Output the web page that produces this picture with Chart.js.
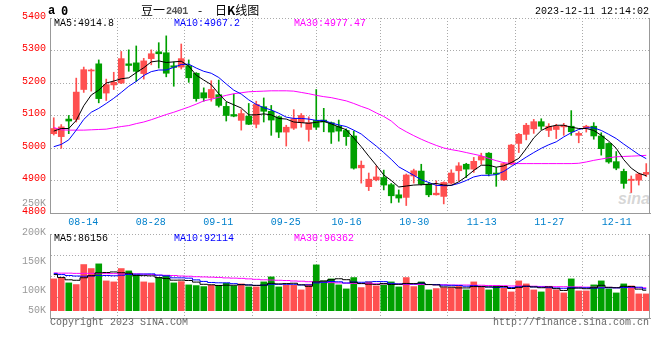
<!DOCTYPE html>
<html>
<head>
<meta charset="utf-8">
<script src="https://cdn.jsdelivr.net/npm/chart.js@4.4.1/dist/chart.umd.min.js"></script>
<style>
  body { margin: 0; background: #fff; }
  #wrap { position: relative; width: 660px; height: 360px; overflow: hidden; }
  #wrap canvas { position: absolute; left: 0; top: 0; }
  .t { position: absolute; white-space: pre; line-height: 12px; font: 10px "Liberation Mono", monospace; }
</style>
</head>
<body>
<div id="wrap">
  <span class="t" style="left:618px;top:190px;font:italic bold 16px 'Liberation Sans';color:rgba(150,150,150,.4)">sina</span>
  <canvas id="priceChart" width="660" height="360"></canvas>
  <canvas id="volChart" width="660" height="360"></canvas>
  <span class="t" style="left:48px;top:4px;font:bold 12px 'Liberation Mono'">a</span>
  <span class="t" style="left:61px;top:4px;font:bold 12px 'DejaVu Sans Mono'">0</span>
  <span class="t" style="left:141px;top:1px;font:12px 'Noto Sans CJK SC'">豆一</span>
  <span class="t" style="left:166px;top:6px;font:bold 10px 'Liberation Mono';letter-spacing:-0.6px;color:#555">2401</span>
  <span class="t" style="left:198px;top:1px;font:12px 'Noto Sans CJK SC'">-</span>
  <span class="t" style="left:215px;top:1px;font:12px 'Noto Sans CJK SC'">日<b>K</b>线图</span>
  <span class="t" style="right:11px;top:6px;color:#000">2023-12-11 12:14:02</span>
  <span class="t" style="left:50px;top:317px;color:#666">Copyright 2023 SINA.COM</span>
  <span class="t" style="right:11px;top:317px;color:#666">http://finance.sina.com.cn</span>
</div>
<script>
const DATES = [
  '08-14','08-15','08-16','08-17','08-18','08-21','08-22','08-23','08-24','08-25',
  '08-28','08-29','08-30','08-31','09-01','09-04','09-05','09-06','09-07','09-08',
  '09-11','09-12','09-13','09-14','09-15','09-18','09-19','09-20','09-21','09-22',
  '09-25','09-26','09-27','09-28','10-09','10-10','10-11','10-12','10-13',
  '10-16','10-17','10-18','10-19','10-20','10-23','10-24','10-25','10-26','10-27',
  '10-30','10-31','11-01','11-02','11-03','11-06','11-07','11-08','11-09','11-10',
  '11-13','11-14','11-15','11-16','11-17','11-20','11-21','11-22','11-23','11-24',
  '11-27','11-28','11-29','11-30','12-01','12-04','12-05','12-06','12-07','12-08',
  '12-11'
];
const TICK_DATES = ['08-14','08-28','09-11','09-25','10-16','10-30','11-13','11-27','12-11'];
const PRICE_TICKS = [4800, 4900, 5000, 5100, 5200, 5300, 5400];
const VOL_TICKS = [50000, 100000, 150000, 200000, 250000];

const OPEN = [
  5044,5035,5089,5088,5180,5237,5259,5169,5194,5200,
  5259,5262,5229,5275,5296,5293,5253,5249,5253,5230,
  5170,5154,5164,5128,5103,5085,5098,5073,5127,5113,
  5096,5049,5061,5078,5057,5085,5086,5078,5067,5054,
  5037,4939,4881,4902,4909,4887,4856,4848,4914,4929,
  4889,4856,4851,4892,4930,4950,4935,4963,4984,4923,
  4902,4950,5014,5042,5059,5081,5054,5057,5065,5067,
  5039,5061,5067,5037,5014,4958,4928,4900,4901,4919
];
const HIGH = [
  5093,5072,5100,5215,5249,5243,5271,5212,5233,5297,
  5302,5314,5276,5302,5324,5345,5265,5320,5271,5232,
  5185,5207,5209,5141,5166,5118,5137,5144,5154,5131,
  5098,5070,5118,5106,5096,5180,5122,5080,5086,5059,
  5052,4960,4923,4945,4932,4891,4871,4920,4935,4950,
  4894,4899,4896,4933,4955,4953,4971,4984,4986,4940,
  4955,5011,5045,5076,5088,5090,5075,5073,5076,5115,
  5050,5070,5078,5047,5016,4989,4935,4914,4923,4952
];
const LOW = [
  5040,4999,5044,5080,5171,5175,5139,5146,5180,5198,
  5236,5205,5212,5256,5246,5219,5190,5243,5202,5144,
  5144,5144,5126,5083,5096,5055,5072,5062,5080,5039,
  5032,5006,5057,5064,5021,5057,5050,5014,5021,5008,
  4935,4892,4869,4899,4871,4831,4833,4823,4892,4886,
  4850,4855,4828,4889,4899,4909,4925,4950,4914,4882,
  4900,4948,4986,5025,5045,5057,5035,5029,5039,5039,
  5016,5049,5027,4978,4953,4933,4876,4863,4886,4912
];
const CLOSE = [
  5060,5065,5083,5172,5241,5240,5152,5195,5202,5275,
  5254,5236,5268,5290,5290,5230,5248,5275,5216,5152,
  5154,5180,5131,5100,5098,5106,5073,5134,5113,5086,
  5049,5064,5090,5100,5078,5064,5080,5049,5052,5035,
  4938,4947,4904,4911,4886,4853,4846,4917,4930,4889,
  4856,4861,4894,4923,4945,4935,4959,4974,4920,4919,
  4952,5009,5042,5070,5081,5067,5067,5067,5070,5050,
  5045,5067,5037,4998,4957,4938,4891,4904,4920,4925
];
const MA5 = [
  5052,5060,5060,5085,5130,5163,5178,5200,5206,5213,
  5216,5232,5247,5265,5268,5263,5265,5267,5252,5224,
  5209,5195,5167,5143,5133,5123,5102,5102,5105,5102,
  5091,5089,5080,5078,5076,5079,5082,5074,5065,5056,
  5031,5004,4975,4947,4917,4900,4880,4883,4886,4887,
  4888,4891,4886,4885,4896,4912,4931,4947,4947,4941,
  4945,4955,4968,4998,5031,5054,5065,5070,5070,5064,
  5060,5060,5054,5039,5021,4999,4964,4938,4922,4914.8
];
const MA10 = [
  5004,5011,5025,5055,5088,5110,5122,5137,5153,5171,
  5190,5205,5223,5235,5240,5240,5248,5257,5258,5246,
  5236,5230,5217,5197,5178,5166,5148,5134,5124,5117,
  5107,5095,5091,5091,5089,5085,5085,5077,5071,5066,
  5055,5043,5024,5006,4986,4965,4942,4929,4916,4902,
  4894,4885,4884,4885,4891,4900,4911,4916,4916,4918,
  4928,4943,4957,4972,4986,4999,5010,5019,5034,5047,
  5057,5062,5062,5054,5042,5029,5012,4996,4980,4967.2
];
const MA30 = [
  5063,5056,5055,5055,5055,5056,5057,5058,5062,5066,
  5069,5075,5080,5087,5095,5103,5110,5118,5126,5135,
  5145,5150,5156,5162,5167,5170,5173,5174,5175,5176,
  5176,5176,5175,5171,5167,5162,5158,5155,5150,5145,
  5137,5128,5120,5108,5097,5083,5063,5050,5038,5027,
  5017,5008,5000,4995,4991,4986,4981,4976,4968,4961,
  4955,4952,4952,4952,4952,4952,4952,4952,4952,4952,
  4953,4957,4962,4966,4970,4973,4974,4975,4976,4977.47
];
const VOLUME = [
  133800,138000,116900,109900,194300,177400,197100,125300,121100,177400,
  167500,150700,121100,116900,139400,147800,116900,122500,108500,105600,
  101400,107100,107100,115500,104200,112700,100000,100000,121100,142200,
  100000,107100,107100,87400,111300,192900,125300,133800,108500,91600,
  139400,97200,121100,104200,108500,121100,100000,139400,101400,121100,
  87400,93000,97200,97200,104200,87400,121100,100000,87400,104200,
  95800,78900,125300,112700,87400,78900,97200,87400,74700,133800,
  83100,83100,108500,125300,91600,74700,112700,104200,70500,70500
];
const VOL_MA5 = [
  152000,140000,130000,128000,138600,147300,159100,160800,163000,159700,
  157700,148400,147600,146700,139100,135200,128400,128700,127000,120300,
  111000,109000,105900,107300,107100,109300,107900,106500,107600,115200,
  112700,114100,115500,108800,102600,121200,124800,130100,134400,130400,
  119700,114100,111600,110700,114100,110400,111000,114600,114100,116600,
  109900,108500,100000,99200,95800,95800,101400,102000,100000,100000,
  101700,93300,98300,103400,100000,96600,100300,92700,85100,94400,
  95200,92400,96600,106800,98300,96600,102600,101700,90700,86156
];
const VOL_MA10 = [
  156000,152000,148000,146000,145000,146000,148000,148000,147000,149200,
  152500,153800,154200,154900,149400,146500,138400,138200,136900,129700,
  123100,118700,117300,117200,113700,110200,108500,106200,107500,111200,
  111000,111000,111000,108200,108900,117000,119500,122800,121600,116500,
  120500,119500,120900,122600,122300,115100,112600,113100,112400,115400,
  110200,109800,107300,106700,106200,102900,105000,101000,99600,97900,
  98800,97400,100200,101700,100000,99200,96800,95500,94300,97200,
  95900,96400,94700,96000,96400,95900,97500,99200,98800,92114
];
const VOL_MA30 = [
  159000,158000,158000,157000,157000,157000,156000,156000,156000,155000,
  155000,155000,154000,152000,150000,149000,148000,146000,145000,143000,
  142000,141000,140000,138000,137000,136000,134000,132000,130000,129000,
  128000,127000,125000,124000,122000,121000,120000,118000,117000,116000,
  115000,114000,114000,113000,113000,112000,112000,111000,111000,110000,
  110000,109000,109000,108000,108000,108000,107000,107000,106000,106000,
  105000,104000,104000,103000,103000,102000,102000,101000,101000,100000,
  100000,99000,99000,98000,98000,97000,97000,97000,96500,96362
];

const UP = '#ff5050', DOWN = '#00a000';
const GRID = '#aaa', AXIS = '#999';
const MONO = '"Liberation Mono", monospace';
const tickIdx = TICK_DATES.map(d => DATES.indexOf(d));
const isUp = i => CLOSE[i] >= OPEN[i];
const barColor = ctx => isUp(ctx.dataIndex) ? UP : DOWN;
const last = a => a[a.length - 1];

Chart.defaults.font.family = MONO;
Chart.defaults.font.size = 10;

const maLine = (label, data, color, stepped) => ({
  type: 'line', label, data, borderColor: color, borderWidth: 1,
  pointRadius: 0, tension: 0, stepped: stepped || false, order: 0
});

// shared day axis: gridlines at the labelled dates, 12-11 on the right border
const dayAxis = {
  type: 'linear', position: 'bottom', min: 0, max: DATES.length - 1,
  afterBuildTicks: s => { s.ticks = tickIdx.map(v => ({ value: v })); },
  afterFit: s => { s.height = 0; },
  ticks: { display: false },
  grid: { color: GRID, drawTicks: false },
  border: { color: AXIS, dash: [1, 2] }
};

const frame = {
  id: 'frame',
  afterDraw(chart) {
    const { ctx, chartArea: a } = chart;
    ctx.save();
    ctx.strokeStyle = AXIS;
    ctx.lineWidth = 1;
    ctx.beginPath();
    ctx.moveTo(Math.round(a.right) - 0.5, a.top);
    ctx.lineTo(Math.round(a.right) - 0.5, a.bottom);
    ctx.stroke();
    ctx.restore();
  }
};

const dateLabels = {
  id: 'dateLabels',
  afterDraw(chart) {
    const { ctx, chartArea: a } = chart;
    const s = chart.scales.xd;
    ctx.save();
    ctx.font = '10px ' + MONO;
    ctx.fillStyle = '#0080cc';
    ctx.textAlign = 'center';
    ctx.textBaseline = 'middle';
    TICK_DATES.forEach((d, k) => {
      const w = ctx.measureText(d).width;
      const x = Math.min(s.getPixelForValue(tickIdx[k]), a.right - w / 2);
      ctx.fillText(d, x, a.bottom + 9);
    });
    ctx.restore();
  }
};

const volLabels = {
  id: 'volLabels',
  afterDraw(chart) {
    const { ctx, chartArea: a } = chart;
    const s = chart.scales.yl;
    ctx.save();
    ctx.font = '10px ' + MONO;
    ctx.fillStyle = '#999';
    ctx.textAlign = 'right';
    ctx.textBaseline = 'middle';
    VOL_TICKS.forEach(v => {
      const y = Math.min(s.getPixelForValue(v), a.bottom - 8);
      ctx.fillText(v / 1000 + 'K', a.left - 4, y);
    });
    ctx.restore();
  }
};

const baseOptions = (padding) => ({
  responsive: false,
  animation: false,
  devicePixelRatio: 1,
  layout: { padding },
  plugins: { legend: { display: false }, tooltip: { enabled: false } }
});

new Chart(document.getElementById('priceChart'), {
  type: 'bar',
  data: {
    labels: DATES,
    datasets: [
      maLine('MA5', MA5, '#000'),
      maLine('MA10', MA10, '#0000ff'),
      maLine('MA30', MA30, '#ff00ff'),
      { label: 'body', data: DATES.map((d, i) => [OPEN[i], CLOSE[i]]), backgroundColor: barColor,
        barThickness: 6, minBarLength: 1, grouped: false, order: 1 },
      { label: 'wick', data: DATES.map((d, i) => [LOW[i], HIGH[i]]), backgroundColor: barColor,
        barThickness: 1, grouped: false, order: 2 }
    ]
  },
  options: {
    ...baseOptions({ top: 18, bottom: 147, left: 0, right: 10 }),
    scales: {
      x: { display: false, offset: true },
      xd: dayAxis,
      y: {
        min: PRICE_TICKS[0], max: last(PRICE_TICKS),
        afterBuildTicks: s => { s.ticks = PRICE_TICKS.map(v => ({ value: v })); },
        afterFit: s => { s.width = 50; },
        ticks: { color: '#ff0000', padding: 4, labelOffset: -2, font: { family: MONO, size: 10 },
          callback: v => String(v) },
        grid: { color: GRID, drawTicks: false },
        border: { color: AXIS, dash: [1, 2] }
      }
    }
  },
  plugins: [frame, dateLabels]
});

new Chart(document.getElementById('volChart'), {
  type: 'bar',
  data: {
    labels: DATES,
    datasets: [
      maLine('MA5', VOL_MA5, '#000', 'middle'),
      maLine('MA10', VOL_MA10, '#0000ff', 'middle'),
      maLine('MA30', VOL_MA30, '#ff00ff', 'middle'),
      { label: 'VOL', data: VOLUME, backgroundColor: barColor, barThickness: 6, grouped: false, order: 1 }
    ]
  },
  options: {
    ...baseOptions({ top: 234, bottom: 42, left: 0, right: 10 }),
    scales: {
      x: { display: false, offset: true },
      xd: dayAxis,
      y: {
        min: -31000, max: 323000,
        afterFit: s => { s.width = 50; },
        ticks: { count: 5, display: false },
        grid: { color: GRID, drawTicks: false },
        border: { color: AXIS, dash: [1, 2] }
      },
      // label scale of the volume panel: 100K at 290px, 50K per 29px
      yl: { display: false, min: 51724, max: 196552 }
    }
  },
  plugins: [frame, volLabels]
});

// legends
const wrap = document.getElementById('wrap');
const legend = (top, items) => items.forEach(([text, color, left]) => {
  const s = document.createElement('span');
  s.className = 't';
  s.style.cssText = `left:${left}px;top:${top}px;color:${color}`;
  s.textContent = text;
  wrap.appendChild(s);
});
legend(18, [
  ['MA5:' + last(MA5), '#000', 54],
  ['MA10:' + last(MA10), '#0000ff', 174],
  ['MA30:' + last(MA30), '#ff00ff', 294]
]);
legend(233, [
  ['MA5:' + last(VOL_MA5), '#000', 54],
  ['MA10:' + last(VOL_MA10), '#0000ff', 174],
  ['MA30:' + last(VOL_MA30), '#ff00ff', 294]
]);
</script>
</body>
</html>
